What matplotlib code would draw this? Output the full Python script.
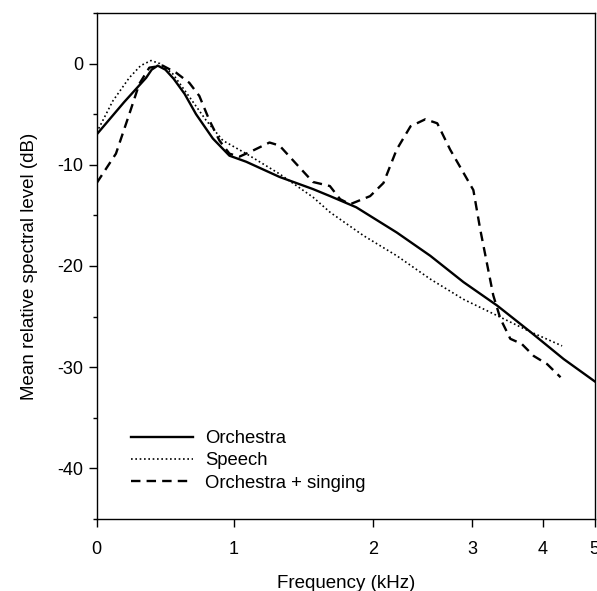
import numpy as np
import matplotlib
matplotlib.use("Agg")
import matplotlib.pyplot as plt
from matplotlib.ticker import MultipleLocator

plt.rcParams["font.family"] = ["Liberation Sans", "DejaVu Sans"]
plt.rcParams["axes.unicode_minus"] = False

# ── Data ─────────────────────────────────────────────────
orch_f = [0.0, 0.2, 0.36, 0.40, 0.444, 0.50, 0.56, 0.64, 0.723, 0.845, 0.966,
          1.087, 1.327, 1.568, 1.692, 1.88, 2.242, 2.58, 2.915, 3.352, 3.82,
          4.40, 5.0]
orch_db = [-7.0, -3.8, -1.4, -0.6, -0.2, -0.6, -1.5, -3.0, -5.0, -7.4, -9.1,
           -9.7, -11.2, -12.4, -13.1, -14.2, -16.7, -19.0, -21.6, -23.9, -26.5,
           -29.2, -31.4]

speech_f = [0.0, 0.117, 0.237, 0.32, 0.395, 0.46, 0.553, 0.675, 0.796, 0.918,
            1.087, 1.327, 1.568, 1.692, 1.932, 2.242, 2.58, 2.915, 3.352, 3.82,
            4.37]
speech_db = [-6.8, -3.7, -1.4, -0.2, 0.3, 0.0, -1.0, -3.3, -5.6, -7.6,
             -8.9, -10.9, -13.2, -14.7, -17.0, -19.0, -21.3, -23.3, -24.9, -26.5,
             -27.9]

sing_f = [0.0, 0.14, 0.237, 0.31, 0.383, 0.48, 0.578, 0.674, 0.747, 0.82,
          0.893, 0.966, 1.038, 1.135, 1.255, 1.327, 1.447, 1.568, 1.69, 1.764,
          1.836, 1.98, 2.107, 2.24, 2.38, 2.53, 2.65, 2.78, 2.915, 3.02,
          3.117, 3.21, 3.30, 3.40, 3.54, 3.70, 3.87, 4.08, 4.34]
sing_db = [-11.8, -8.9, -5.0, -2.0, -0.4, -0.2, -0.9, -1.9, -3.2, -5.6,
           -7.6, -8.9, -9.2, -8.6, -7.8, -8.1, -9.9, -11.7, -12.1, -13.4,
           -13.9, -13.1, -11.8, -8.5, -6.2, -5.5, -5.9, -8.5, -10.8, -12.5,
           -16.4, -19.7, -22.9, -25.2, -27.2, -27.7, -28.9, -29.7, -31.0]

scale_khz = [0, 1, 2, 3, 4, 5]
scale_pos = [0.0, 137.3, 276.0, 375.0, 446.0, 497.6]


def fwd(x):
    return np.interp(x, scale_khz, scale_pos)


def inv(p):
    return np.interp(p, scale_pos, scale_khz)


fig = plt.figure(figsize=(5.97, 5.91), dpi=100)
ax = fig.add_axes([0.162, 0.122, 0.834, 0.856])
ax.set_xscale("function", functions=(fwd, inv))

ax.plot(orch_f, orch_db, color="black", lw=1.7, ls="-", label="Orchestra")
ax.plot(speech_f, speech_db, color="black", lw=1.2, ls=(0, (1, 1.6)), label="Speech")
ax.plot(sing_f, sing_db, color="black", lw=1.7, ls=(0, (4, 2.6)),
        label="Orchestra + singing")

ax.set_xlim(0, 5)
ax.set_ylim(-45, 5)
ax.set_xticks(scale_khz)
ax.set_xticklabels([str(k) for k in scale_khz])
ax.xaxis.set_minor_locator(plt.NullLocator())
ax.set_yticks([0, -10, -20, -30, -40])
ax.yaxis.set_minor_locator(MultipleLocator(5))

ax.tick_params(axis="both", which="major", direction="out", length=6,
               width=1.0, labelsize=13, colors="black")
ax.tick_params(axis="y", which="minor", direction="out", length=3, width=1.0)
ax.tick_params(axis="x", pad=10)
for s in ax.spines.values():
    s.set_linewidth(1.0)

ax.set_xlabel("Frequency (kHz)", fontsize=13.5, labelpad=12)
ax.set_ylabel("Mean relative spectral level (dB)", fontsize=13.5, labelpad=14)

ax.legend(loc="lower left", bbox_to_anchor=(0.068, 0.054), frameon=False,
          fontsize=13.3, handlelength=3.4, handletextpad=0.65, labelspacing=0.28,
          borderaxespad=0, borderpad=0)

fig.savefig("out.png", dpi=100)
